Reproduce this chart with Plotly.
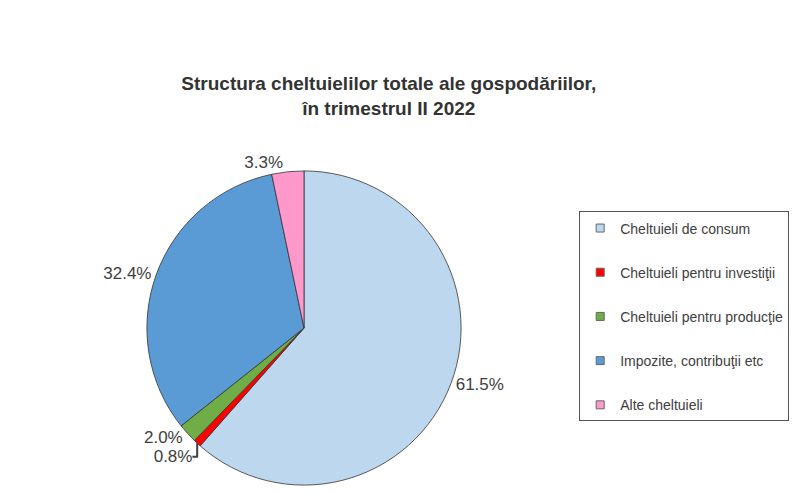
import plotly.graph_objects as go

categories = ["Cheltuieli de consum", "Cheltuieli pentru investiţii", "Cheltuieli pentru producţie",
              "Impozite, contribuţii etc", "Alte cheltuieli"]
values = [61.5, 0.8, 2.0, 32.4, 3.3]
colors = ["#BDD7EE", "#FF0000", "#70AD47", "#5B9BD5", "#FF99CC"]
value_labels = [f"{v:.1f}%" for v in values]

FONT = "Liberation Sans, Arial"

fig = go.Figure()
fig.add_trace(go.Pie(
    labels=categories,
    values=values,
    text=value_labels,
    textinfo="text",
    textposition="outside",
    texttemplate="%{text}",
    sort=False,
    direction="clockwise",
    rotation=0,
    marker=dict(colors=colors, line=dict(color="#333333", width=0.8)),
    outsidetextfont=dict(family=FONT, size=17, color="#404040"),
    domain=dict(x=[0.08, 0.68], y=[0.018, 0.654]),
    hoverinfo="label+percent",
    showlegend=False,
))

# legend entries (one group per category so the entries can be spaced out)
for name, col in zip(categories, colors):
    fig.add_trace(go.Scatter(
        x=[None], y=[None], mode="markers", name=name,
        legendgroup=name,
        marker=dict(symbol="square", size=8, color=col, line=dict(color="#666666", width=1)),
        hoverinfo="skip",
    ))

fig.update_layout(
    width=800, height=494,
    margin=dict(l=0, r=0, t=0, b=0, autoexpand=False),
    paper_bgcolor="white",
    plot_bgcolor="white",
    xaxis=dict(visible=False),
    yaxis=dict(visible=False),
    title=dict(
        text="<b>Structura cheltuielilor totale ale gospodăriilor,<br>în trimestrul II 2022</b>",
        x=0.486, xanchor="center", y=0.818, yanchor="middle",
        font=dict(family=FONT, size=19, color="#333333"),
    ),
    legend=dict(
        x=0.724, xanchor="left", y=0.572, yanchor="top",
        bordercolor="#555555", borderwidth=1, bgcolor="white",
        font=dict(family=FONT, size=14, color="#404040"),
        tracegroupgap=23,
        itemwidth=30,
    ),
    showlegend=True,
)

fig.write_html("out.html", config={"displayModeBar": False},
               post_script="document.body.style.margin='0';")
